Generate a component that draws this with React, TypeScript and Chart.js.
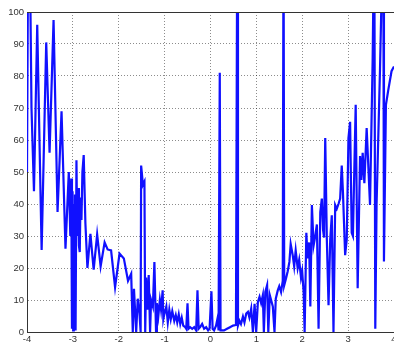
import React, { useEffect, useRef } from "react";
import { Chart, registerables } from "chart.js";

Chart.register(...registerables);

const xValues: number[] = [
  -4.0, -3.978, -3.935, -3.902, -3.848, -3.777, -3.681, -3.581, -3.508, -3.421,
  -3.334, -3.247, -3.161, -3.089, -3.056, -3.035, -3.02, -3.007, -2.993, -2.98,
  -2.967, -2.954, -2.941, -2.922, -2.905, -2.887, -2.868, -2.85, -2.833, -2.813,
  -2.792, -2.764, -2.727, -2.683, -2.618, -2.547, -2.471, -2.395, -2.308, -2.243,
  -2.167, -2.08, -1.983, -1.889, -1.798, -1.729, -1.694, -1.668, -1.62, -1.586,
  -1.549, -1.523, -1.512, -1.473, -1.44, -1.423, -1.403, -1.375, -1.347, -1.317,
  -1.295, -1.256, -1.223, -1.187, -1.169, -1.137, -1.104, -1.078, -1.043, -1.028,
  -1.007, -0.963, -0.931, -0.898, -0.866, -0.833, -0.79, -0.757, -0.725, -0.692,
  -0.659, -0.627, -0.594, -0.551, -0.529, -0.501, -0.479, -0.443, -0.399, -0.356,
  -0.312, -0.284, -0.258, -0.226, -0.182, -0.139, -0.095, -0.052, -0.02, 0.02,
  0.046, 0.078, 0.121, 0.154, 0.176, 0.202, 0.219, 0.295, 0.36, 0.425,
  0.49, 0.555, 0.584, 0.599, 0.631, 0.664, 0.707, 0.74, 0.779, 0.816,
  0.848, 0.887, 0.924, 0.961, 0.996, 1.033, 1.069, 1.104, 1.141, 1.163,
  1.195, 1.234, 1.26, 1.293, 1.321, 1.358, 1.395, 1.423, 1.466, 1.499,
  1.538, 1.575, 1.592, 1.607, 1.646, 1.683, 1.72, 1.748, 1.792, 1.824,
  1.857, 1.9, 1.933, 1.972, 1.998, 2.03, 2.052, 2.089, 2.117, 2.15,
  2.176, 2.21, 2.247, 2.284, 2.319, 2.356, 2.393, 2.427, 2.453, 2.475,
  2.501, 2.536, 2.573, 2.61, 2.644, 2.681, 2.718, 2.753, 2.79, 2.826,
  2.861, 2.887, 2.935, 2.97, 3.007, 3.043, 3.078, 3.104, 3.165, 3.208,
  3.26, 3.289, 3.317, 3.354, 3.404, 3.477, 3.534, 3.57, 3.592, 3.62,
  3.694, 3.766, 3.781, 3.824, 3.874, 3.946, 4.0,
];

const yValues: number[] = [
  50, 115, 115, 70, 44, 96, 25.6, 90.5, 56, 97.5,
  37.5, 69, 26, 50, 30, 48, 1, 44, 0.5, 40,
  1, 43, 0.5, 53.7, 30, 45, 27, 25, 42, 35,
  50, 55.3, 34, 20, 30.7, 19.5, 30.5, 20.5, 28, 25.8,
  25.5, 14, 24.5, 23, 16, 18.2, 0, 13.5, 0, 10.4,
  6, 0, 52, 46, 47, 0, 17, 7, 17.8, 0,
  10, 8, 21.9, 0, 9, 5, 10, 7, 13, 4,
  5.5, 8, 3, 7, 4, 6.5, 3.5, 5.3, 3, 5.5,
  2.5, 4.5, 2, 1.5, 1, 9, 1, 1.5, 1, 1.5,
  0.5, 13, 1, 1.5, 2.5, 1, 1.5, 0.5, 1, 12.7,
  1, 0.5, 2, 4.3, 0.5, 81, 0.5, 0.5, 1, 1.5,
  2, 2.2, 130, 2, 3.5, 2.5, 4.8, 3, 5.8, 6.3,
  4.5, 7.3, 0, 8.8, 0, 9.4, 11, 9, 11.5, 0,
  12.5, 14.6, 0, 11.5, 10, 8, 0, 10.4, 13, 14.3,
  12.5, 16, 130, 14.6, 16.7, 19, 21.9, 27.5, 24, 20.5,
  25.5, 20, 22.5, 17, 19, 12.5, 0, 31, 23, 28,
  8, 39.7, 27, 30, 33.6, 1, 37.5, 41.7, 32, 29.5,
  60.6, 29, 8.4, 29, 36.5, 0, 39.7, 38.5, 40, 41.7,
  52, 43.7, 24, 29, 60.6, 65.7, 31, 30, 71, 13.7,
  55, 47.5, 56, 46.5, 63.7, 39.7, 84.5, 130, 1, 39.7,
  81.5, 130, 22, 71, 75.5, 81.5, 83,
];

const xTickStep = 1;
const yTickStep = 10;

const topBorder = {
  id: "topBorder",
  afterDraw(chart: any) {
    const { ctx, chartArea } = chart;
    ctx.save();
    ctx.strokeStyle = "#333";
    ctx.lineWidth = 1;
    ctx.beginPath();
    ctx.moveTo(chartArea.left, chartArea.top + 0.5);
    ctx.lineTo(chartArea.right, chartArea.top + 0.5);
    ctx.stroke();
    ctx.restore();
  },
};

export default function App() {
  const ref = useRef<HTMLCanvasElement>(null);
  useEffect(() => {
    if (!ref.current) return;
    const points = xValues.map((x, i) => ({ x, y: yValues[i] }));
    const font = { family: "'Liberation Sans', Arial, sans-serif", size: 9.5 };
    const chart = new Chart(ref.current, {
      type: "line",
      data: {
        datasets: [
          {
            data: points,
            borderColor: "#1010ff",
            borderWidth: 2.2,
            pointRadius: 0,
            tension: 0,
            fill: false,
          },
        ],
      },
      options: {
        animation: false,
        responsive: false,
        devicePixelRatio: 1,
        layout: { padding: { top: 12, left: 0, right: 0, bottom: 0 } },
        plugins: { legend: { display: false }, tooltip: { enabled: false } },
        scales: {
          x: {
            type: "linear",
            min: -4,
            max: 4,
            ticks: { stepSize: xTickStep, font, color: "#333", padding: 2, maxRotation: 0 },
            grid: { color: "rgba(0,0,0,0.45)", lineWidth: 1, drawTicks: false },
            border: { display: true, color: "#333", width: 1, dash: [1, 2] },
            afterFit(scale: any) {
              scale.height = 12;
              scale.paddingLeft = 0;
              scale.paddingRight = 0;
            },
          },
          y: {
            min: 0,
            max: 100,
            ticks: { stepSize: yTickStep, font, color: "#333", padding: 3 },
            grid: { color: "rgba(0,0,0,0.45)", lineWidth: 1, drawTicks: false },
            border: { display: true, color: "#333", width: 1, dash: [1, 2] },
            afterFit(scale: any) {
              scale.width = 27;
              scale.paddingTop = 0;
              scale.paddingBottom = 0;
            },
          },
        },
      },
      plugins: [topBorder],
    } as any);
    return () => chart.destroy();
  }, []);
  return (
    <div style={{ position: "absolute", left: 0, top: 0, width: 394, height: 344, background: "#fff" }}>
      <canvas ref={ref} width={394} height={344} style={{ display: "block" }} />
    </div>
  );
}
